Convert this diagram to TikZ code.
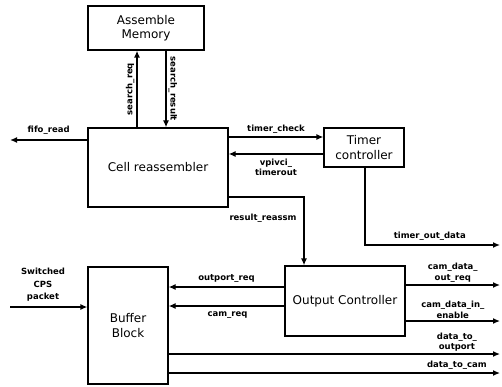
\documentclass[tikz,border=0pt]{standalone}
\usepackage{fontspec}
\setmainfont{DejaVu Sans}
\usetikzlibrary{arrows.meta}
\begin{document}
\begin{tikzpicture}[x=1pt,y=-1pt,
  blk/.style={draw,line width=1.3pt,inner sep=0pt,font=\fontsize{12}{14.5}\selectfont,align=center},
  sig/.style={line width=1.3pt,-{Latex[length=7pt,width=6pt]}},
  wire/.style={line width=1.3pt},
  lbl/.style={font=\fontsize{8.5}{10.5}\selectfont\bfseries,align=center,inner sep=0pt}]
\useasboundingbox (0,0) rectangle (502,387);
% boxes
\node[blk,minimum width=116pt,minimum height=44pt] (mem) at (146,28) {Assemble\\Memory};
\node[blk,minimum width=140pt,minimum height=79pt] (cell) at (158,167.5) {Cell reassembler};
\node[blk,minimum width=80pt,minimum height=39pt] (timer) at (364,147.5) {Timer\\controller};
\node[blk,minimum width=120pt,minimum height=70pt] (out) at (345,301) {Output Controller};
\node[blk,minimum width=80pt,minimum height=117pt] (buf) at (128,325.5) {Buffer\\Block};
% coordinates
\coordinate (fifo) at (10,140);
\coordinate (cps) at (10,307);
\coordinate (tod) at (500,245);
\coordinate (cdor) at (500,285);
\coordinate (cdie) at (500,321);
\coordinate (dto) at (500,354);
\coordinate (dtc) at (500,373);
% memory links
\draw[sig] (cell.north -| 137,0) -- (mem.south -| 137,0)
  node[midway,left=2pt,lbl,rotate=90,anchor=south] {search\_req};
\draw[sig] (mem.south -| 166,0) -- (cell.north -| 166,0)
  node[midway,lbl,rotate=-90,anchor=south,yshift=2pt] {search\_result};
% fifo
\draw[sig] (cell.west |- fifo) -- (fifo) node[midway,above=5pt,lbl] {fifo\_read};
% timer
\draw[sig] (cell.east |- 0,137) -- (timer.west |- 0,137) node[midway,above=3pt,lbl] {timer\_check};
\draw[sig] (timer.west |- 0,154) -- (cell.east |- 0,154) node[midway,below=4pt,lbl] {vpivci\_\\timerout};
\draw[sig] (timer.south -| 365,0) |- (tod) node[pos=0.74,above=4pt,lbl] {timer\_out\_data};
% result
\draw[sig] (cell.east |- 0,197) -| (out.north -| 304,0);
\node[lbl] (rr) at (263,218) {result\_reassm};
% buffer inputs
\draw[sig] (cps) -- (buf.west |- cps);
\node[lbl,font=\fontsize{8.5}{12.5}\selectfont\bfseries] (cpsl) at (43,285) {Switched\\CPS\\packet};
\draw[sig] (out.west |- 0,287) -- (buf.east |- 0,287) node[midway,above=4pt,lbl] {outport\_req};
\draw[sig] (out.west |- 0,306) -- (buf.east |- 0,306) node[midway,below=5pt,lbl,xshift=1pt] {cam\_req};
% outputs
\draw[sig] (out.east |- cdor) -- (cdor) node[midway,above=2pt,lbl] {cam\_data\_\\out\_req};
\draw[sig] (out.east |- cdie) -- (cdie) node[midway,above=2pt,lbl] {cam\_data\_in\_\\enable};
\draw[sig] (buf.east |- dto) -- (dto) node[pos=0.87,above=2pt,lbl] {data\_to\_\\outport};
\draw[sig] (buf.east |- dtc) -- (dtc) node[pos=0.87,above=3pt,lbl] {data\_to\_cam};
\end{tikzpicture}
\end{document}
